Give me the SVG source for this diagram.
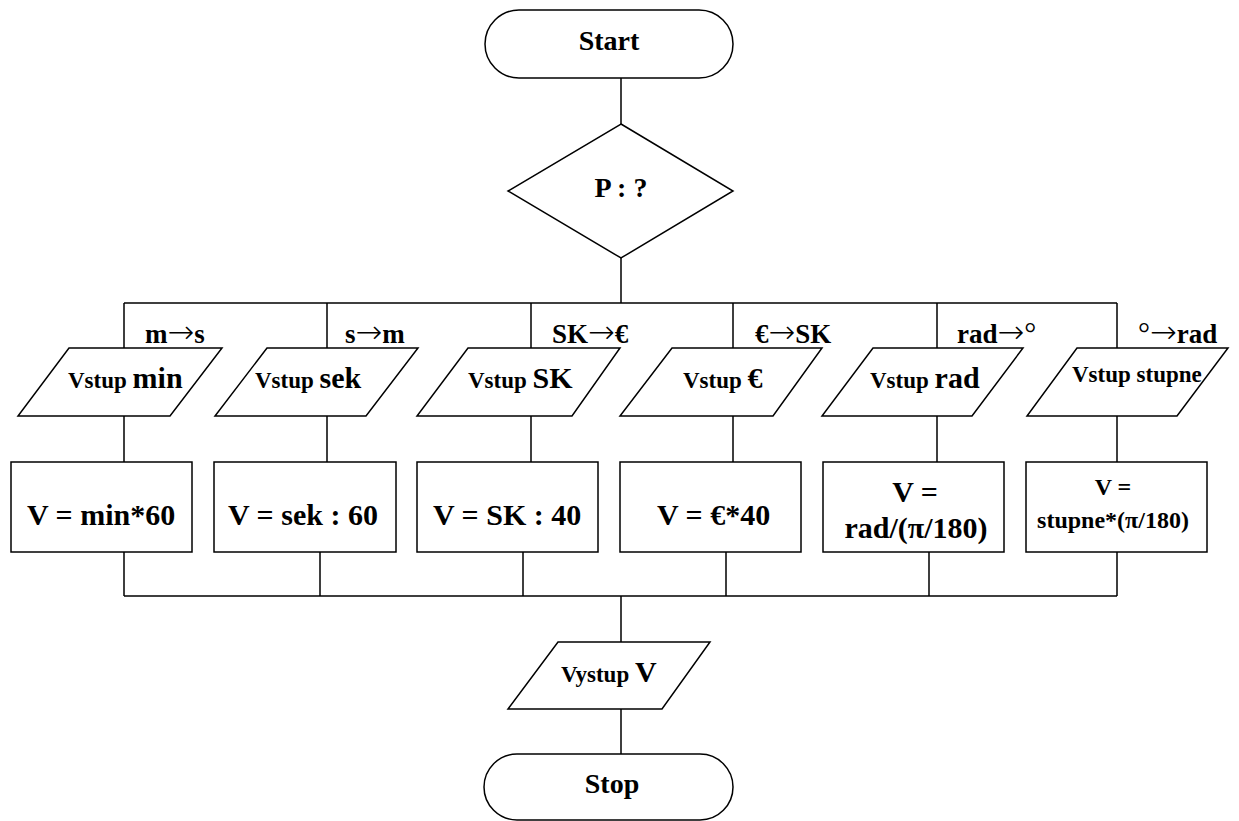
<svg xmlns="http://www.w3.org/2000/svg" width="1239" height="821" viewBox="0 0 1239 821">
<style>
.s{fill:#fff;stroke:#000;stroke-width:1.5}
.c{fill:none;stroke:#000;stroke-width:1.5}
.t{font-family:'Liberation Serif','Times New Roman','DejaVu Serif',serif;font-weight:bold;fill:#000}
.a{font-family:'DejaVu Sans',sans-serif;font-weight:200;font-size:32px}
.d{font-weight:normal;font-size:30px}
.L{font-size:27px}
.v{font-size:23px}
.b{font-size:30px}
.m{text-anchor:middle}
</style>
<rect width="1239" height="821" fill="#fff"/>
<g id="connectors">
<path class="c" d="M621 78V124M621 258V303M124 303H1117M124 303V348M327 303V348M531 303V348M733 303V348M937 303V348M1117 303V348"/>
<path class="c" d="M124 416V462M327 416V462M531 416V462M733 416V462M937 416V462M1117 416V462"/>
<path class="c" d="M124 552V596M320 552V596M523 552V596M726 552V596M929 552V596M1117 552V596M124 596H1117M621 596V642M621 709V754"/>
</g>
<g id="labels">
<text class="t L" x="145" y="343">m<tspan class="a">→</tspan>s</text>
<text class="t L" x="345" y="343">s<tspan class="a">→</tspan>m</text>
<text class="t L" x="552" y="343">SK<tspan class="a">→</tspan>€</text>
<text class="t L" x="755" y="343">€<tspan class="a">→</tspan>SK</text>
<text class="t L" x="957" y="343">rad<tspan class="a">→</tspan><tspan class="d">°</tspan></text>
<text class="t L" x="1138" y="343"><tspan class="d">°</tspan><tspan class="a">→</tspan>rad</text>
</g>
<g id="start">
<rect class="s" x="485" y="10" width="248" height="68" rx="34"/>
<text class="t m" x="609" y="50" font-size="28">Start</text>
</g>
<g id="decision">
<polygon class="s" points="621,124 733,191 621,258 508,191"/>
<text class="t m" x="621" y="197" font-size="28">P : ?</text>
</g>
<g id="in1">
<polygon class="s" points="69,348 222,348 170,416 18,416"/>
<text class="t" x="68" y="388"><tspan class="v">Vstup </tspan><tspan class="b">min</tspan></text>
</g>
<g id="in2">
<polygon class="s" points="267,348 418,348 366,416 215,416"/>
<text class="t" x="255" y="388"><tspan class="v">Vstup </tspan><tspan class="b">sek</tspan></text>
</g>
<g id="in3">
<polygon class="s" points="468,348 620,348 572,416 417,416"/>
<text class="t" x="468" y="388"><tspan class="v">Vstup </tspan><tspan class="b">SK</tspan></text>
</g>
<g id="in4">
<polygon class="s" points="672,348 822,348 773,416 620,416"/>
<text class="t" x="683" y="388"><tspan class="v">Vstup </tspan><tspan class="b">€</tspan></text>
</g>
<g id="in5">
<polygon class="s" points="873,348 1023,348 972,416 822,416"/>
<text class="t" x="870" y="388"><tspan class="v">Vstup </tspan><tspan class="b">rad</tspan></text>
</g>
<g id="in6">
<polygon class="s" points="1077,348 1228,348 1177,416 1027,416"/>
<text class="t v" x="1072" y="382">Vstup stupne</text>
</g>
<g id="p1">
<rect class="s" x="11" y="462" width="181" height="90"/>
<text class="t b" x="27" y="525">V = min*60</text>
</g>
<g id="p2">
<rect class="s" x="214" y="462" width="182" height="90"/>
<text class="t b" x="228" y="525">V = sek : 60</text>
</g>
<g id="p3">
<rect class="s" x="417" y="462" width="181" height="90"/>
<text class="t b" x="433" y="525">V = SK : 40</text>
</g>
<g id="p4">
<rect class="s" x="620" y="462" width="181" height="90"/>
<text class="t b" x="657" y="525">V = €*40</text>
</g>
<g id="p5">
<rect class="s" x="823" y="462" width="181" height="90"/>
<text class="t b m" x="915" y="502">V =</text>
<text class="t b m" x="916" y="538">rad/(π/180)</text>
</g>
<g id="p6">
<rect class="s" x="1026" y="462" width="181" height="90"/>
<text class="t m" font-size="24" x="1113" y="495">V =</text>
<text class="t m" font-size="24" x="1113" y="528">stupne*(π/180)</text>
</g>
<g id="out">
<polygon class="s" points="558,642 710,642 662,709 508,709"/>
<text class="t" x="561" y="682"><tspan class="v">Vystup </tspan><tspan class="b">V</tspan></text>
</g>
<g id="stop">
<rect class="s" x="484" y="754" width="249" height="66" rx="33"/>
<text class="t m" x="612" y="793" font-size="28">Stop</text>
</g>
</svg>
